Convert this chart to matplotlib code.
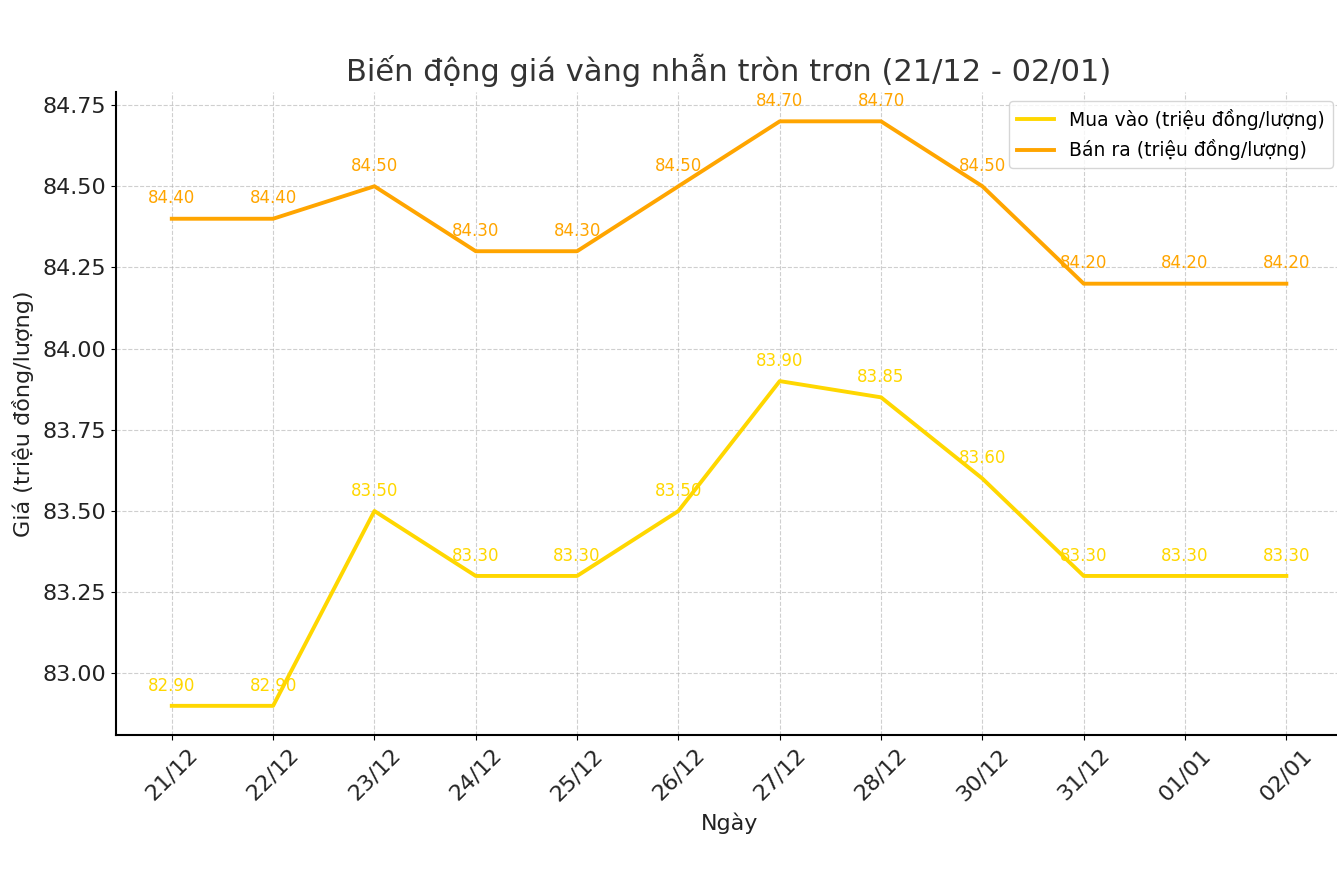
import matplotlib
matplotlib.use("Agg")
import matplotlib.pyplot as plt

dates = ["21/12", "22/12", "23/12", "24/12", "25/12", "26/12",
         "27/12", "28/12", "30/12", "31/12", "01/01", "02/01"]
buy = [82.90, 82.90, 83.50, 83.30, 83.30, 83.50, 83.90, 83.85, 83.60, 83.30, 83.30, 83.30]
sell = [84.40, 84.40, 84.50, 84.30, 84.30, 84.50, 84.70, 84.70, 84.50, 84.20, 84.20, 84.20]

BUY_COLOR = "#FFD700"
SELL_COLOR = "#FFA500"

fig = plt.figure(figsize=(13.37, 8.73), dpi=100)
ax = fig.add_axes([0.0868, 0.158, 0.917, 0.7365])

x = range(len(dates))
ax.plot(x, buy, color=BUY_COLOR, linewidth=2.8, label="Mua vào (triệu đồng/lượng)")
ax.plot(x, sell, color=SELL_COLOR, linewidth=2.8, label="Bán ra (triệu đồng/lượng)")

for xi, v in zip(x, buy):
    ax.annotate(f"{v:.2f}", (xi, v), textcoords="offset points", xytext=(0, 11),
                ha="center", color=BUY_COLOR, fontsize=12)
for xi, v in zip(x, sell):
    ax.annotate(f"{v:.2f}", (xi, v), textcoords="offset points", xytext=(0, 11),
                ha="center", color=SELL_COLOR, fontsize=12)

ax.set_xticks(list(x))
ax.set_xticklabels(dates, rotation=45, fontsize=16, color="#222222")
ax.tick_params(axis="y", labelsize=16, labelcolor="#222222")
ax.yaxis.set_major_formatter(matplotlib.ticker.FormatStrFormatter("%.2f"))
ax.set_title("Biến động giá vàng nhẫn tròn trơn (21/12 - 02/01)", fontsize=22, color="#333333", pad=8)
ax.set_xlabel("Ngày", fontsize=16, color="#222222", labelpad=6)
ax.set_ylabel("Giá (triệu đồng/lượng)", fontsize=16, color="#222222", labelpad=6)
ax.grid(True, linestyle="--", alpha=0.6)
ax.spines["top"].set_visible(False)
ax.spines["right"].set_visible(False)
ax.spines["left"].set_linewidth(1.5)
ax.spines["bottom"].set_linewidth(1.5)
ax.legend(loc="upper right", fontsize=13.5)

fig.savefig("out.png", dpi=100)
